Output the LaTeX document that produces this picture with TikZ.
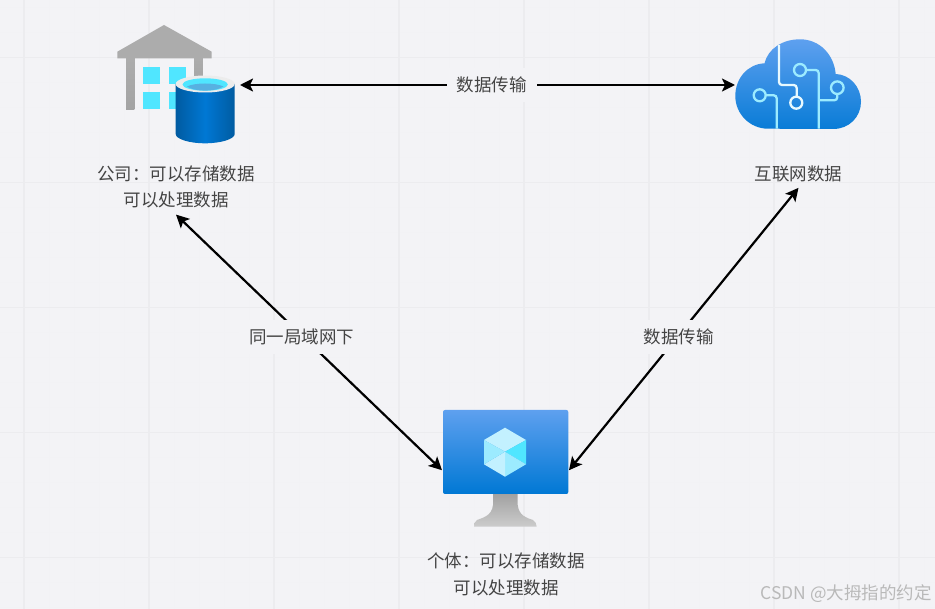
\documentclass[tikz,border=0pt]{standalone}
\usepackage{fontspec}
\setmainfont{Noto Sans CJK SC}
\usetikzlibrary{arrows.meta}
\definecolor{paper}{HTML}{F3F3F6}
\definecolor{gridmajor}{HTML}{ECECEF}
\definecolor{gridminor}{HTML}{F2F2F5}
\definecolor{labelgrey}{HTML}{444444}
\definecolor{azure}{HTML}{0078D4}
\definecolor{azuredark}{HTML}{005BA1}
\definecolor{azurelight}{HTML}{5EA0EF}
\definecolor{cyana}{HTML}{50E6FF}
\definecolor{cyanb}{HTML}{9CEBFF}
\definecolor{cyanc}{HTML}{C3F1FF}
\tikzset{
	icon/.style={inner sep=0pt,outer sep=0pt},
	caption/.style={align=center,text=labelgrey,inner sep=6pt,font=\fontsize{17.5}{26.6}\selectfont},
	tag/.style={fill=paper,text=labelgrey,inner xsep=10pt,inner ysep=9pt,yshift=-2pt,font=\fontsize{17.5}{20}\selectfont},
	link/.style={{Stealth[length=13pt,width=13pt,inset=3pt]}-{Stealth[length=13pt,width=13pt,inset=3pt]},line width=2.2pt,black},
	circuit/.style={line width=2.3pt,rounded corners=3pt,draw=cyanb},
}
\begin{document}
\begin{tikzpicture}[x=1pt,y=-1pt]
		\fill[paper] (0,0) rectangle (935,609);
		\useasboundingbox (0,0) rectangle (935,609);
		% grid
		\foreach \gx in {0,...,37}
			\draw[gridminor,line width=.8pt] ({24+25*(\gx-1)+25},0) -- ({24+25*(\gx-1)+25},609);
		\foreach \gy in {0,...,24}
			\draw[gridminor,line width=.8pt] (0,{7.5+25*\gy}) -- (935,{7.5+25*\gy});
		\foreach \gx in {24,149,274,399,524,649,774,899}
			\draw[gridmajor,line width=1.5pt] (\gx,0) -- (\gx,609);
		\foreach \gy in {57.5,182.5,307.5,432.5,557.5}
			\draw[gridmajor,line width=1.5pt] (0,\gy) -- (935,\gy);

		% company
		\fill[gray!65] (164,25) -- (211.7,51.7) -- (211.7,58.3) -- (117.3,58.3) -- (117.3,51.7) -- cycle;
		\shade[top color=gray!65,bottom color=gray!72] (126,58) rectangle (134.3,109.3);
		\shade[top color=gray!65,bottom color=gray!72] (194.7,58) rectangle (202.7,90);
		\fill[cyana] (143,67) rectangle (160,84);
		\fill[cyana] (168.7,67) rectangle (185.7,84);
		\fill[cyana] (143,92.3) rectangle (160,109.3);
		\fill[cyana] (168.7,92.3) rectangle (185.7,109.3);
		\shade[left color=azuredark,right color=azuredark,middle color=azure]
			(175.7,84) -- (234.7,84) -- (234.7,134) .. controls (234.7,139) and (221,143.3) .. (205.2,143.3)
			.. controls (189,143.3) and (175.7,139) .. (175.7,134) -- cycle;
		\fill[gray!15] (205.2,84) ellipse (29.5 and 8.5);
		\fill[cyana] (205.2,84.5) ellipse (22.7 and 6.2);
		\fill[cyan!60!azure!70] (187,86.5) .. controls (195,82.5) and (215,82.5) .. (223.5,86.5)
			.. controls (215,92) and (195,92) .. (187,86.5) -- cycle;

		% cloud
		\shade[top color=azurelight,bottom color=azure!90!azurelight]
			(768,128.7) .. controls (750,128.7) and (735.3,114) .. (735.3,96)
			.. controls (735.3,78) and (748,64) .. (764.5,63.3)
			.. controls (768,49) and (782,39.3) .. (800,39.3)
			.. controls (820,39.3) and (834,55) .. (835.7,74)
			.. controls (850,74.5) and (861,87) .. (861,101.7)
			.. controls (861,117) and (849,129) .. (833.3,129) -- cycle;
		\draw[circuit,draw=cyanc!40!white] (779,45) -- (779,85) -- (796.7,85) -- (796.7,96.7);
		\draw[line width=2.3pt,draw=cyanc!40!white] (796.3,102.7) circle (6);
		\draw[circuit] (806,70) -- (818.7,70) -- (818.7,128.7);
		\draw[circuit] (818.7,100.3) -- (837.3,100.3) -- (837.3,94);
		\draw[circuit] (765.7,95.3) -- (776.7,95.3) -- (776.7,128.7);
		\draw[line width=2.3pt,draw=cyanb] (800,70) circle (6) (837.3,87.7) circle (6.3) (759.7,95.3) circle (6);

		% computer
		\shade[top color=gray!95!black!70,bottom color=gray!40]
			(493,494) -- (493,505) .. controls (492,516) and (482,518) .. (477,520)
			.. controls (475,521) and (474,524) .. (474,526.7) -- (536.7,526.7)
			.. controls (536.7,524) and (535,521) .. (533,520)
			.. controls (527,518) and (519,516) .. (517.7,505) -- (517.7,494) -- cycle;
		\shade[top color=azurelight,bottom color=azure,rounded corners=2pt] (443,410) rectangle (568.3,494);
		\fill[cyanc] (484,440) -- (505,427.7) -- (526,440) -- (505,451.7) -- cycle;
		\fill[cyana] (526,440) -- (526,464.3) -- (505,451.7) -- cycle;
		\fill[cyanb] (526,464.3) -- (505,476.7) -- (505,451.7) -- cycle;
		\fill[cyanc] (505,476.7) -- (484,464.3) -- (505,451.7) -- cycle;
		\fill[cyanb] (484,464.3) -- (484,440) -- (505,451.7) -- cycle;

		\node[icon,minimum width=123pt,minimum height=120pt] (company) at (178.5,85) {};
		\node[icon,minimum width=126pt,minimum height=88pt] (cloud) at (798,85) {};
		\node[icon,minimum width=127pt,minimum height=84pt] (pc) at (505.5,452) {};

		\node[caption] (companytext) at (176,187) {公司：可以存储数据\\可以处理数据};
		\node[caption] (cloudtext) at (798.5,173.5) {互联网数据};
		\node[caption] (pctext) at (506,574.5) {个体：可以存储数据\\可以处理数据};
		\node[text=gray!55,font=\fontsize{17.5}{20}\selectfont,anchor=east,inner sep=0pt] (mark) at (932,594) {CSDN @大拇指的约定};

		\path[link]
		(company) edge node [tag,pos=.509,yshift=2pt] {数据传输} (cloud)
		(companytext.south) edge node [tag,pos=.472] {同一局域网下} (pc.196)
		(cloudtext.south) edge node [tag,pos=.522] {数据传输} (pc.-16);
		\end{tikzpicture}
\end{document}
